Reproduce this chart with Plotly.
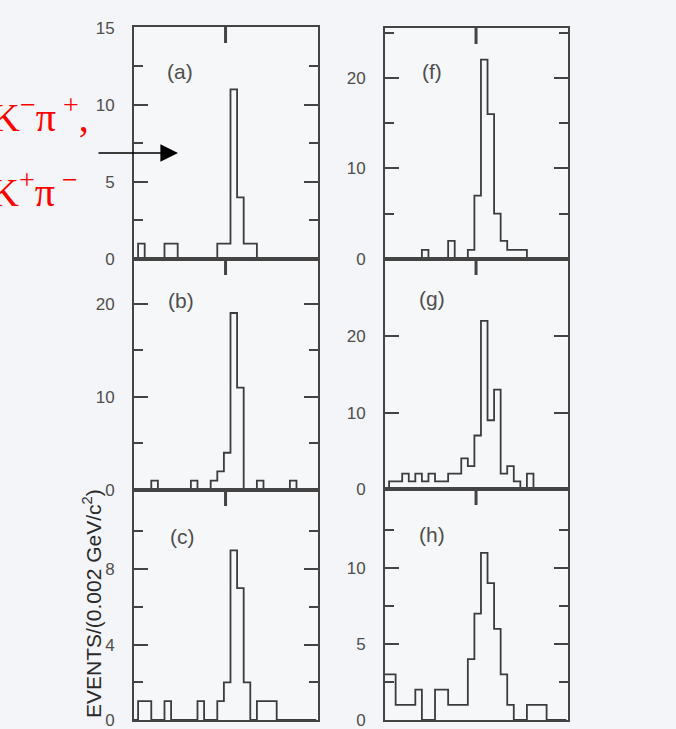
import plotly.graph_objects as go

# ---- data ----
bin_low = 1.836          # GeV/c^2, lower edge of first bin
bin_width = 0.002        # GeV/c^2
n_bins = 28
mass_tick = 1.8645       # single reference tick on the mass axis

counts_a = [0,1,0,0,0,1,1,0,0,0,0,0,0,1,1,11,4,1,1,0,0,0,0,0,0,0,0,0]
counts_b = [0,0,0,1,0,0,0,0,0,1,0,0,1,2,4,19,11,0,0,1,0,0,0,0,1,0,0,0]
counts_c = [0,1,1,0,0,1,0,0,0,0,1,0,0,1,2,9,7,2,0,1,1,1,0,0,0,0,0,0]
counts_f = [0,0,0,0,0,0,1,0,0,0,2,0,0,1,7,22,16,5,2,1,1,1,0,0,0,0,0,0]
counts_g = [0,1,1,2,1,2,1,2,1,1,2,2,4,3,7,22,9,13,2,3,1,0,2,0,0,0,0,0]
counts_h = [3,3,1,1,1,2,0,0,2,2,1,1,1,4,7,11,9,6,3,1,0,0,1,1,1,0,0,0]

panel_labels = ["(a)", "(b)", "(c)", "(f)", "(g)", "(h)"]
y_ranges = [15.05, 24.8, 12.2, 25.5, 30.1, 15.2]
y_major = [[0, 5, 10, 15], [0, 10, 20], [0, 4, 8], [0, 10, 20], [0, 10, 20], [0, 5, 10]]
y_minor = [[2.5, 7.5, 12.5], [5, 15], [2, 6, 10], [5, 15, 25], [], [2.5, 7.5, 12.5]]
y_title = "EVENTS/(0.002 GeV/c<sup>2</sup>)"
decay_line1 = "K<sup>−</sup>π<sup> +</sup>,"
decay_line2 = "K<sup>+</sup>π<sup> −</sup>"

all_counts = [counts_a, counts_b, counts_c, counts_f, counts_g, counts_h]

# ---- layout geometry ----
W, H = 676, 729
col_x = [(134, 318), (385, 568)]
row_y = [[(27, 259), (259, 490), (490, 720)], [(28, 259), (259, 489), (489, 720)]]
x_range = [1.83676, 1.89252]
label_pos = [(0.25, 0.81), (0.255, 0.82), (0.265, 0.8), (0.255, 0.81), (0.255, 0.83), (0.255, 0.805)]
x_tick_len_px = 16

edges = [bin_low + i * bin_width for i in range(n_bins + 1)]

fig = go.Figure()
line_col = "#3c3c3c"
axis_col = "#444444"
lab_col = "#4e4e4e"

layout = dict(
    width=W, height=H,
    margin=dict(l=0, r=0, t=0, b=0, pad=0),
    paper_bgcolor="#f4f5f8",
    plot_bgcolor="#f6f7f9",
    showlegend=False,
    annotations=[],
)

for p in range(6):
    col = p // 3
    row = p % 3
    xs = "" if p == 0 else str(p + 1)
    cnt = all_counts[p]
    px = [edges[0]] + edges
    py = [0] + cnt + [0]
    x0, x1 = col_x[col]
    yt, yb = row_y[col][row]
    fig.add_trace(go.Scatter(
        x=px, y=py, mode="lines", line=dict(shape="hv", color=line_col, width=1.8),
        xaxis="x" + xs, yaxis="y" + xs, hoverinfo="skip"))
    # single mass-axis tick hanging from the top edge of each panel
    ytop = y_ranges[p]
    fig.add_trace(go.Scatter(
        x=[mass_tick, mass_tick],
        y=[ytop, ytop * (1 - x_tick_len_px / (yb - yt))],
        mode="lines", line=dict(color=axis_col, width=3),
        xaxis="x" + xs, yaxis="y" + xs, hoverinfo="skip", cliponaxis=False))
    layout["xaxis" + xs] = dict(
        domain=[x0 / W, x1 / W], range=x_range, anchor="y" + xs,
        showline=True, mirror=True, linecolor=axis_col, linewidth=2,
        ticks="", showticklabels=False,
        showgrid=False, zeroline=False, automargin=False,
    )
    layout["yaxis" + xs] = dict(
        domain=[1 - yb / H, 1 - yt / H], range=[0, y_ranges[p]], anchor="x" + xs,
        showline=True, mirror="ticks", linecolor=axis_col, linewidth=2,
        ticks="inside", tickmode="array", tickvals=y_major[p], ticklen=14, tickwidth=2,
        tickcolor=axis_col,
        tickfont=dict(family="Liberation Sans", size=17, color=lab_col),
        ticklabelstandoff=14, ticklabeloverflow="allow", automargin=False,
        showgrid=False, zeroline=False,
        minor=dict(tickmode="array", tickvals=y_minor[p], ticks="inside", ticklen=9,
                   tickwidth=2, tickcolor=axis_col, showgrid=False),
    )
    lx, ly = label_pos[p]
    layout["annotations"].append(dict(
        text=panel_labels[p], xref="x" + xs + " domain", yref="y" + xs + " domain",
        x=lx, y=ly, xanchor="center", yanchor="middle", showarrow=False,
        font=dict(family="Liberation Sans", size=21, color=lab_col)))

# decay-mode labels and arrow
layout["annotations"].append(dict(
    text=decay_line1, xref="paper", yref="paper", x=91 / W, y=1 - 142 / H,
    xanchor="right", yanchor="bottom", showarrow=False,
    font=dict(family="Liberation Serif", size=40, color="#ff0000")))
layout["annotations"].append(dict(
    text=decay_line2, xref="paper", yref="paper", x=80 / W, y=1 - 217 / H,
    xanchor="right", yanchor="bottom", showarrow=False,
    font=dict(family="Liberation Serif", size=40, color="#ff0000")))
layout["annotations"].append(dict(
    text="", xref="paper", yref="paper", x=178 / W, y=1 - 153 / H,
    ax=-81, ay=0, showarrow=True, arrowhead=2, arrowsize=2.2, arrowwidth=1.6,
    arrowcolor="#000000"))
layout["annotations"].append(dict(
    text=y_title, xref="paper", yref="paper", x=92 / W, y=1 - 604 / H,
    xanchor="center", yanchor="middle", textangle=-90, showarrow=False,
    font=dict(family="Liberation Sans", size=21, color="#2a2a2a")))

fig.update_layout(**layout)
fig.write_html("out.html", config={"displayModeBar": False},
               post_script="document.body.style.margin='0px';")
